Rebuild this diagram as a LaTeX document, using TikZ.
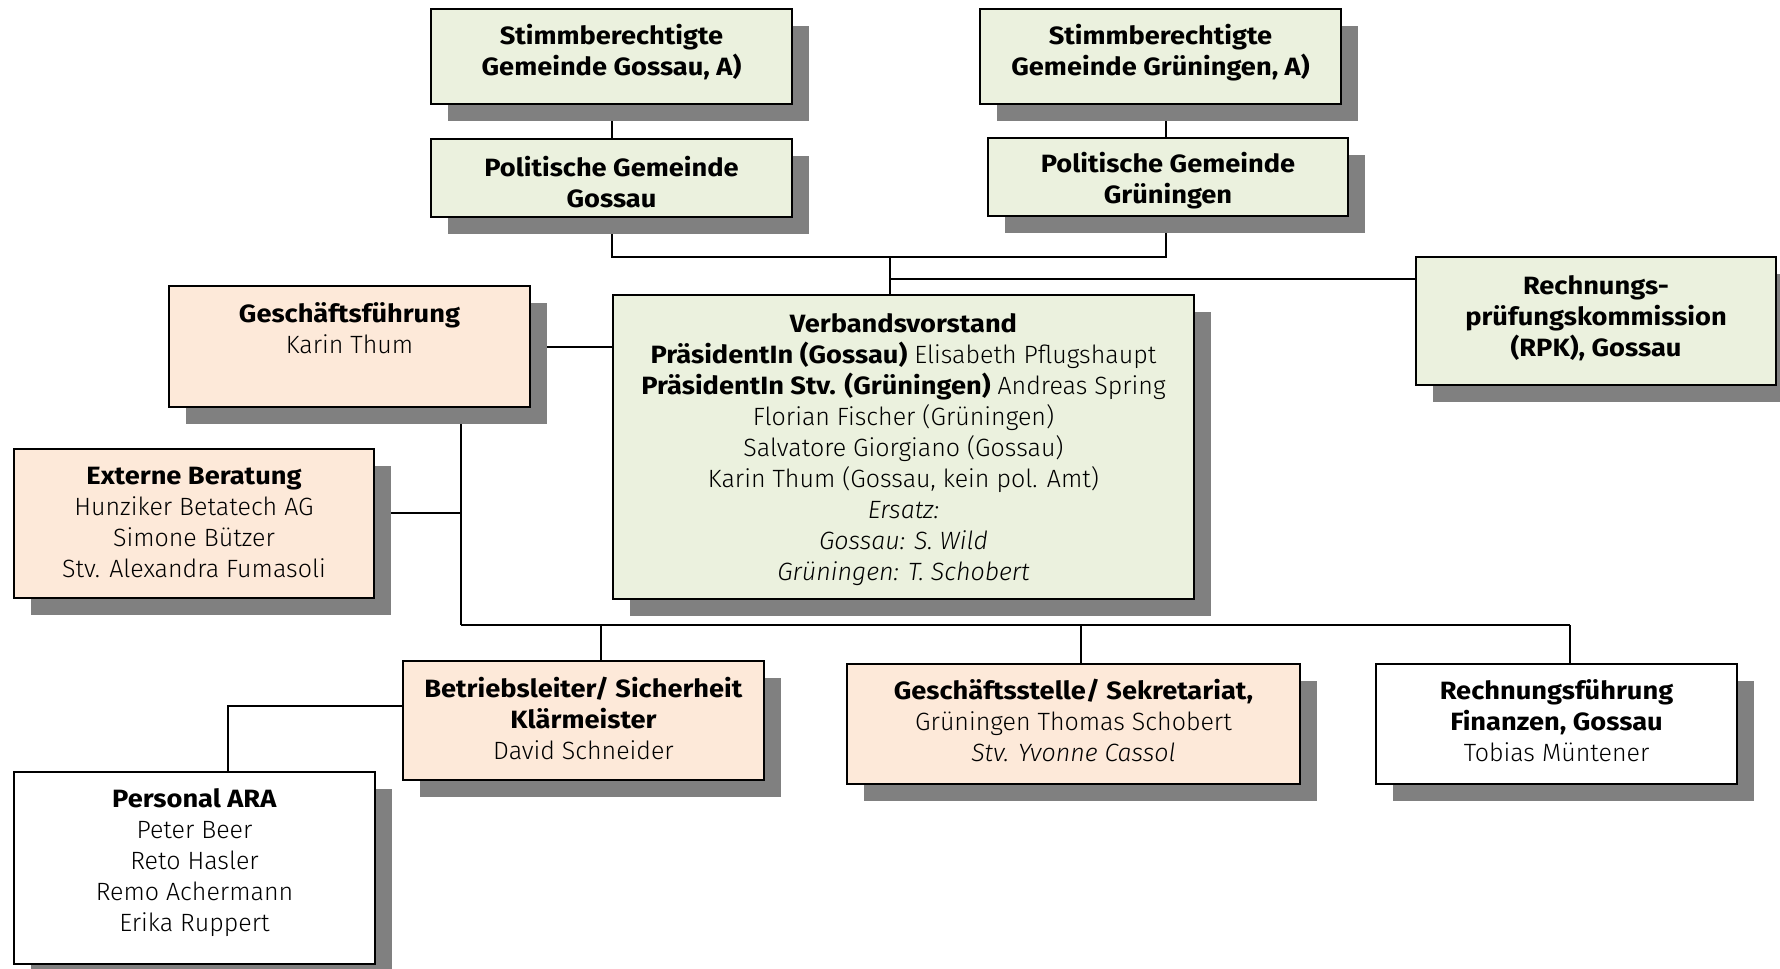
\documentclass[tikz,border=0pt]{standalone}
\usepackage{fontspec}
\setmainfont{Fira Sans}[UprightFont={* Light}, ItalicFont={* Light Italic}, BoldFont={* Bold}, BoldFeatures={FakeStretch=1.09}]
\usetikzlibrary{shadows}
\definecolor{boxgreen}{HTML}{EBF1DE}
\definecolor{boxpeach}{HTML}{FDE9D9}
\definecolor{shadowgray}{HTML}{808080}
\pgfdeclarelayer{background}
\pgfsetlayers{background,main}
\tikzset{
  orgbox/.style={draw=black, line width=1.3pt, inner sep=0pt,
    drop shadow={shadow xshift=8.5pt, shadow yshift=-8.5pt, fill=shadowgray, opacity=1, draw=none}},
  greenbox/.style={orgbox, fill=boxgreen},
  peachbox/.style={orgbox, fill=boxpeach},
  whitebox/.style={orgbox, fill=white},
  boxtext/.style={align=center, inner sep=0pt, font=\fontsize{12.5}{15.5}\selectfont},
  conn/.style={line width=1pt, draw=black},
}
\begin{document}
\begin{tikzpicture}[x=0.5pt,y=-0.5pt]
\useasboundingbox (0,0) rectangle (1780,968);
% boxes
\node[greenbox, minimum width=180.5pt, minimum height=47.5pt] (b1) at (611.5,56.5) {};
\node[greenbox, minimum width=180.5pt, minimum height=47.5pt] (b2) at (1160.5,56.5) {};
\node[greenbox, minimum width=180.5pt, minimum height=39pt] (b3) at (611.5,178) {};
\node[greenbox, minimum width=180pt, minimum height=39pt] (b4) at (1168,177) {};
\node[greenbox, minimum width=180pt, minimum height=64pt] (b5) at (1596,321) {};
\node[greenbox, minimum width=290.5pt, minimum height=152pt] (b6) at (903.5,447) {};
\node[peachbox, minimum width=180.5pt, minimum height=60.5pt] (b7) at (349.5,346.5) {};
\node[peachbox, minimum width=180pt, minimum height=74.5pt] (b8) at (194,523.5) {};
\node[peachbox, minimum width=180.5pt, minimum height=59.5pt] (b9) at (583.5,720.5) {};
\node[peachbox, minimum width=226.5pt, minimum height=60pt] (b10) at (1073.5,724) {};
\node[whitebox, minimum width=180.5pt, minimum height=60pt] (b11) at (1556.5,724) {};
\node[whitebox, minimum width=180.5pt, minimum height=96pt] (b12) at (194.5,868) {};
% texts
\node[boxtext] (t1) at (611.5,52.5) {\textbf{Stimmberechtigte}\\\textbf{Gemeinde Gossau, A)}};
\node[boxtext] (t2) at (1160.5,52.5) {\textbf{Stimmberechtigte}\\\textbf{Gemeinde Grüningen, A)}};
\node[boxtext] (t3) at (611.5,182.5) {\textbf{Politische Gemeinde}\\\textbf{Gossau}};
\node[boxtext] (t4) at (1168,180.5) {\textbf{Politische Gemeinde}\\\textbf{Grüningen}};
\node[boxtext] (t5) at (1596,318) {\textbf{Rechnungs-}\\\textbf{prüfungskommission}\\\textbf{(RPK), Gossau}};
\node[boxtext] (t6) at (903.5,449.5) {\textbf{Verbandsvorstand}\\
  \textbf{PräsidentIn (Gossau)} Elisabeth Pflugshaupt\\
  \textbf{PräsidentIn Stv. (Grüningen)} Andreas Spring\\
  Florian Fischer (Grüningen)\\
  Salvatore Giorgiano (Gossau)\\
  Karin Thum (Gossau, kein pol. Amt)\\
  \textit{Ersatz:}\\
  \textit{Gossau: S. Wild}\\
  \textit{Grüningen: T. Schobert}};
\node[boxtext] (t7) at (349.5,328) {\textbf{Geschäftsführung}\\Karin Thum};
\node[boxtext] (t8) at (194,522) {\textbf{Externe Beratung}\\Hunziker Betatech AG\\Simone Bützer\\Stv. Alexandra Fumasoli};
\node[boxtext] (t9) at (583.5,718) {\textbf{Betriebsleiter/ Sicherheit}\\\textbf{Klärmeister}\\David Schneider};
\node[boxtext] (t10) at (1073.5,720.5) {\textbf{Geschäftsstelle/ Sekretariat,}\\Grüningen Thomas Schobert\\\textit{Stv. Yvonne Cassol}};
\node[boxtext] (t11) at (1556.5,720.5) {\textbf{Rechnungsführung}\\\textbf{Finanzen, Gossau}\\Tobias Müntener};
\node[boxtext] (t12) at (194.5,862.5) {\textbf{Personal ARA}\\Peter Beer\\Reto Hasler\\Remo Achermann\\Erika Ruppert};
% junctions
\coordinate (jtop) at (890,257);
\coordinate (jrpk) at (890,279);
\coordinate (jeb) at (461,513);
\coordinate (jl) at (461,625);
\coordinate (d1) at (601,625);
\coordinate (d2) at (1081,625);
\coordinate (jr) at (1570,625);
\coordinate (jpa) at (228,706);
\coordinate (jg) at (1166,257);
% connectors
\begin{pgfonlayer}{background}
\draw[conn] (b1) -- (b3);
\draw[conn] (jg |- b2.south) -- (jg |- b4.north);
\draw[conn] (b3.south) -- (b3.south |- jtop) -- (jg) -- (jg |- b4.south);
\draw[conn] (jtop) -- (jtop |- b6.north);
\draw[conn] (jrpk) -- (jrpk -| b5.west);
\draw[conn] (b7.east) -- (b7.east -| b6.west);
\draw[conn] (b7.south -| jl) -- (jl);
\draw[conn] (jeb) -- (jeb -| b8.east);
\draw[conn] (jl) -- (jr);
\draw[conn] (d1) -- (d1 |- b9.north);
\draw[conn] (d2) -- (d2 |- b10.north);
\draw[conn] (jr) -- (jr |- b11.north);
\draw[conn] (b9.west |- jpa) -- (jpa) -- (jpa |- b12.north);
\end{pgfonlayer}
\end{tikzpicture}
\end{document}
